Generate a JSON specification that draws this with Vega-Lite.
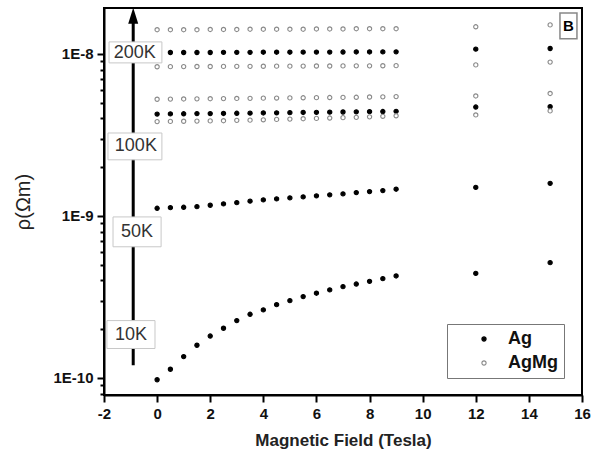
{
  "$schema": "https://vega.github.io/schema/vega-lite/v6.json",
  "width": 478,
  "height": 387,
  "autosize": "none",
  "padding": {"left": 104, "top": 8, "right": 9, "bottom": 63},
  "config": {"view": {"stroke": "black", "strokeWidth": 2}, "font": "Liberation Sans"},
  "datasets": {
    "meas": [
      {"B": 0, "rho": 1.41e-8, "sample": "AgMg"}, {"B": 0.5, "rho": 1.41e-8, "sample": "AgMg"}, {"B": 1, "rho": 1.41e-8, "sample": "AgMg"}, {"B": 1.5, "rho": 1.41e-8, "sample": "AgMg"}, {"B": 2, "rho": 1.415e-8, "sample": "AgMg"}, {"B": 2.5, "rho": 1.415e-8, "sample": "AgMg"}, {"B": 3, "rho": 1.415e-8, "sample": "AgMg"}, {"B": 3.5, "rho": 1.42e-8, "sample": "AgMg"}, {"B": 4, "rho": 1.42e-8, "sample": "AgMg"}, {"B": 4.5, "rho": 1.42e-8, "sample": "AgMg"}, {"B": 5, "rho": 1.42e-8, "sample": "AgMg"}, {"B": 5.5, "rho": 1.42e-8, "sample": "AgMg"}, {"B": 6, "rho": 1.425e-8, "sample": "AgMg"}, {"B": 6.5, "rho": 1.425e-8, "sample": "AgMg"}, {"B": 7, "rho": 1.425e-8, "sample": "AgMg"}, {"B": 7.5, "rho": 1.43e-8, "sample": "AgMg"}, {"B": 8, "rho": 1.43e-8, "sample": "AgMg"}, {"B": 8.5, "rho": 1.43e-8, "sample": "AgMg"}, {"B": 9, "rho": 1.43e-8, "sample": "AgMg"}, {"B": 12, "rho": 1.47e-8, "sample": "AgMg"}, {"B": 14.8, "rho": 1.51e-8, "sample": "AgMg"},

      {"B": 0, "rho": 1.02e-8, "sample": "Ag"}, {"B": 0.5, "rho": 1.02e-8, "sample": "Ag"}, {"B": 1, "rho": 1.02e-8, "sample": "Ag"}, {"B": 1.5, "rho": 1.02e-8, "sample": "Ag"}, {"B": 2, "rho": 1.02e-8, "sample": "Ag"}, {"B": 2.5, "rho": 1.022e-8, "sample": "Ag"}, {"B": 3, "rho": 1.022e-8, "sample": "Ag"}, {"B": 3.5, "rho": 1.022e-8, "sample": "Ag"}, {"B": 4, "rho": 1.024e-8, "sample": "Ag"}, {"B": 4.5, "rho": 1.024e-8, "sample": "Ag"}, {"B": 5, "rho": 1.024e-8, "sample": "Ag"}, {"B": 5.5, "rho": 1.025e-8, "sample": "Ag"}, {"B": 6, "rho": 1.026e-8, "sample": "Ag"}, {"B": 6.5, "rho": 1.026e-8, "sample": "Ag"}, {"B": 7, "rho": 1.027e-8, "sample": "Ag"}, {"B": 7.5, "rho": 1.028e-8, "sample": "Ag"}, {"B": 8, "rho": 1.028e-8, "sample": "Ag"}, {"B": 8.5, "rho": 1.029e-8, "sample": "Ag"}, {"B": 9, "rho": 1.03e-8, "sample": "Ag"}, {"B": 12, "rho": 1.07e-8, "sample": "Ag"}, {"B": 14.8, "rho": 1.08e-8, "sample": "Ag"},

      {"B": 0, "rho": 8.33e-9, "sample": "AgMg"}, {"B": 0.5, "rho": 8.34e-9, "sample": "AgMg"}, {"B": 1, "rho": 8.35e-9, "sample": "AgMg"}, {"B": 1.5, "rho": 8.36e-9, "sample": "AgMg"}, {"B": 2, "rho": 8.36e-9, "sample": "AgMg"}, {"B": 2.5, "rho": 8.37e-9, "sample": "AgMg"}, {"B": 3, "rho": 8.38e-9, "sample": "AgMg"}, {"B": 3.5, "rho": 8.38e-9, "sample": "AgMg"}, {"B": 4, "rho": 8.39e-9, "sample": "AgMg"}, {"B": 4.5, "rho": 8.4e-9, "sample": "AgMg"}, {"B": 5, "rho": 8.4e-9, "sample": "AgMg"}, {"B": 5.5, "rho": 8.41e-9, "sample": "AgMg"}, {"B": 6, "rho": 8.42e-9, "sample": "AgMg"}, {"B": 6.5, "rho": 8.42e-9, "sample": "AgMg"}, {"B": 7, "rho": 8.43e-9, "sample": "AgMg"}, {"B": 7.5, "rho": 8.44e-9, "sample": "AgMg"}, {"B": 8, "rho": 8.44e-9, "sample": "AgMg"}, {"B": 8.5, "rho": 8.45e-9, "sample": "AgMg"}, {"B": 9, "rho": 8.46e-9, "sample": "AgMg"}, {"B": 12, "rho": 8.55e-9, "sample": "AgMg"}, {"B": 14.8, "rho": 8.9e-9, "sample": "AgMg"},

      {"B": 0, "rho": 5.25e-9, "sample": "AgMg"}, {"B": 0.5, "rho": 5.26e-9, "sample": "AgMg"}, {"B": 1, "rho": 5.27e-9, "sample": "AgMg"}, {"B": 1.5, "rho": 5.28e-9, "sample": "AgMg"}, {"B": 2, "rho": 5.29e-9, "sample": "AgMg"}, {"B": 2.5, "rho": 5.3e-9, "sample": "AgMg"}, {"B": 3, "rho": 5.31e-9, "sample": "AgMg"}, {"B": 3.5, "rho": 5.32e-9, "sample": "AgMg"}, {"B": 4, "rho": 5.33e-9, "sample": "AgMg"}, {"B": 4.5, "rho": 5.34e-9, "sample": "AgMg"}, {"B": 5, "rho": 5.35e-9, "sample": "AgMg"}, {"B": 5.5, "rho": 5.36e-9, "sample": "AgMg"}, {"B": 6, "rho": 5.37e-9, "sample": "AgMg"}, {"B": 6.5, "rho": 5.38e-9, "sample": "AgMg"}, {"B": 7, "rho": 5.39e-9, "sample": "AgMg"}, {"B": 7.5, "rho": 5.4e-9, "sample": "AgMg"}, {"B": 8, "rho": 5.42e-9, "sample": "AgMg"}, {"B": 8.5, "rho": 5.43e-9, "sample": "AgMg"}, {"B": 9, "rho": 5.45e-9, "sample": "AgMg"}, {"B": 12, "rho": 5.5e-9, "sample": "AgMg"}, {"B": 14.8, "rho": 5.7e-9, "sample": "AgMg"},

      {"B": 0, "rho": 4.25e-9, "sample": "Ag"}, {"B": 0.5, "rho": 4.26e-9, "sample": "Ag"}, {"B": 1, "rho": 4.27e-9, "sample": "Ag"}, {"B": 1.5, "rho": 4.28e-9, "sample": "Ag"}, {"B": 2, "rho": 4.28e-9, "sample": "Ag"}, {"B": 2.5, "rho": 4.29e-9, "sample": "Ag"}, {"B": 3, "rho": 4.3e-9, "sample": "Ag"}, {"B": 3.5, "rho": 4.31e-9, "sample": "Ag"}, {"B": 4, "rho": 4.32e-9, "sample": "Ag"}, {"B": 4.5, "rho": 4.33e-9, "sample": "Ag"}, {"B": 5, "rho": 4.34e-9, "sample": "Ag"}, {"B": 5.5, "rho": 4.35e-9, "sample": "Ag"}, {"B": 6, "rho": 4.36e-9, "sample": "Ag"}, {"B": 6.5, "rho": 4.37e-9, "sample": "Ag"}, {"B": 7, "rho": 4.38e-9, "sample": "Ag"}, {"B": 7.5, "rho": 4.39e-9, "sample": "Ag"}, {"B": 8, "rho": 4.4e-9, "sample": "Ag"}, {"B": 8.5, "rho": 4.41e-9, "sample": "Ag"}, {"B": 9, "rho": 4.42e-9, "sample": "Ag"}, {"B": 12, "rho": 4.7e-9, "sample": "Ag"}, {"B": 14.8, "rho": 4.72e-9, "sample": "Ag"},

      {"B": 0, "rho": 3.82e-9, "sample": "AgMg"}, {"B": 0.5, "rho": 3.83e-9, "sample": "AgMg"}, {"B": 1, "rho": 3.84e-9, "sample": "AgMg"}, {"B": 1.5, "rho": 3.85e-9, "sample": "AgMg"}, {"B": 2, "rho": 3.86e-9, "sample": "AgMg"}, {"B": 2.5, "rho": 3.87e-9, "sample": "AgMg"}, {"B": 3, "rho": 3.89e-9, "sample": "AgMg"}, {"B": 3.5, "rho": 3.9e-9, "sample": "AgMg"}, {"B": 4, "rho": 3.92e-9, "sample": "AgMg"}, {"B": 4.5, "rho": 3.94e-9, "sample": "AgMg"}, {"B": 5, "rho": 3.96e-9, "sample": "AgMg"}, {"B": 5.5, "rho": 3.98e-9, "sample": "AgMg"}, {"B": 6, "rho": 4.0e-9, "sample": "AgMg"}, {"B": 6.5, "rho": 4.02e-9, "sample": "AgMg"}, {"B": 7, "rho": 4.04e-9, "sample": "AgMg"}, {"B": 7.5, "rho": 4.06e-9, "sample": "AgMg"}, {"B": 8, "rho": 4.09e-9, "sample": "AgMg"}, {"B": 8.5, "rho": 4.12e-9, "sample": "AgMg"}, {"B": 9, "rho": 4.15e-9, "sample": "AgMg"}, {"B": 12, "rho": 4.2e-9, "sample": "AgMg"}, {"B": 14.8, "rho": 4.45e-9, "sample": "AgMg"},

      {"B": 0, "rho": 1.115e-9, "sample": "Ag"}, {"B": 0.5, "rho": 1.125e-9, "sample": "Ag"}, {"B": 1, "rho": 1.131e-9, "sample": "Ag"}, {"B": 1.5, "rho": 1.141e-9, "sample": "Ag"}, {"B": 2, "rho": 1.164e-9, "sample": "Ag"}, {"B": 2.5, "rho": 1.186e-9, "sample": "Ag"}, {"B": 3, "rho": 1.208e-9, "sample": "Ag"}, {"B": 3.5, "rho": 1.233e-9, "sample": "Ag"}, {"B": 4, "rho": 1.256e-9, "sample": "Ag"}, {"B": 4.5, "rho": 1.274e-9, "sample": "Ag"}, {"B": 5, "rho": 1.292e-9, "sample": "Ag"}, {"B": 5.5, "rho": 1.31e-9, "sample": "Ag"}, {"B": 6, "rho": 1.33e-9, "sample": "Ag"}, {"B": 6.5, "rho": 1.349e-9, "sample": "Ag"}, {"B": 7, "rho": 1.368e-9, "sample": "Ag"}, {"B": 7.5, "rho": 1.393e-9, "sample": "Ag"}, {"B": 8, "rho": 1.413e-9, "sample": "Ag"}, {"B": 8.5, "rho": 1.433e-9, "sample": "Ag"}, {"B": 9, "rho": 1.462e-9, "sample": "Ag"}, {"B": 12, "rho": 1.5e-9, "sample": "Ag"}, {"B": 14.8, "rho": 1.59e-9, "sample": "Ag"},

      {"B": 0, "rho": 9.75e-11, "sample": "Ag"}, {"B": 0.5, "rho": 1.132e-10, "sample": "Ag"}, {"B": 1, "rho": 1.355e-10, "sample": "Ag"}, {"B": 1.5, "rho": 1.592e-10, "sample": "Ag"}, {"B": 2, "rho": 1.815e-10, "sample": "Ag"}, {"B": 2.5, "rho": 2.027e-10, "sample": "Ag"}, {"B": 3, "rho": 2.259e-10, "sample": "Ag"}, {"B": 3.5, "rho": 2.472e-10, "sample": "Ag"}, {"B": 4, "rho": 2.63e-10, "sample": "Ag"}, {"B": 4.5, "rho": 2.834e-10, "sample": "Ag"}, {"B": 5, "rho": 2.999e-10, "sample": "Ag"}, {"B": 5.5, "rho": 3.177e-10, "sample": "Ag"}, {"B": 6, "rho": 3.334e-10, "sample": "Ag"}, {"B": 6.5, "rho": 3.493e-10, "sample": "Ag"}, {"B": 7, "rho": 3.66e-10, "sample": "Ag"}, {"B": 7.5, "rho": 3.8e-10, "sample": "Ag"}, {"B": 8, "rho": 3.95e-10, "sample": "Ag"}, {"B": 8.5, "rho": 4.1e-10, "sample": "Ag"}, {"B": 9, "rho": 4.26e-10, "sample": "Ag"}, {"B": 12, "rho": 4.42e-10, "sample": "Ag"}, {"B": 14.8, "rho": 5.15e-10, "sample": "Ag"}
    ],
    "temps": [
      {"label": "200K", "tx": -0.84, "ty": 1.02e-8, "bx1": -1.81, "bx2": 0.18, "by1": 8.8e-9, "by2": 1.186e-8},
      {"label": "100K", "tx": -0.8, "ty": 2.69e-9, "bx1": -1.85, "bx2": 0.18, "by1": 2.22e-9, "by2": 3.25e-9},
      {"label": "50K", "tx": -0.76, "ty": 7.97e-10, "bx1": -1.66, "bx2": 0.15, "by1": 6.45e-10, "by2": 9.86e-10},
      {"label": "10K", "tx": -0.98, "ty": 1.84e-10, "bx1": -1.89, "bx2": -0.08, "by1": 1.52e-10, "by2": 2.26e-10}
    ]
  },
  "layer": [
    {
      "data": {"name": "meas"},
      "mark": {"type": "point", "shape": "circle", "opacity": 1, "strokeWidth": 1.1, "size": 18},
      "encoding": {
        "x": {
          "field": "B", "type": "quantitative",
          "scale": {"domain": [-2, 16], "nice": false, "zero": false},
          "axis": {
            "values": [-2, -1, 0, 1, 2, 3, 4, 5, 6, 7, 8, 9, 10, 11, 12, 13, 14, 15, 16],
            "labelExpr": "datum.value % 2 == 0 ? '' + datum.value : ''",
            "tickSize": {"condition": {"test": "datum.value % 2 == 0", "value": 7}, "value": 4},
            "grid": false,
            "title": "Magnetic Field (Tesla)",
            "domainColor": "black", "domainWidth": 2, "tickColor": "black", "tickWidth": 2,
            "labelFont": "Liberation Sans", "labelFontWeight": "bold", "labelFontSize": 15, "labelColor": "#111", "labelPadding": 4, "labelFlush": false,
            "titleFont": "Liberation Sans", "titleFontWeight": "bold", "titleFontSize": 17, "titleColor": "#222", "titlePadding": 11
          }
        },
        "y": {
          "field": "rho", "type": "quantitative",
          "scale": {"type": "log", "domain": [7.85e-11, 1.92e-8], "nice": false},
          "axis": {
            "values": [8e-11, 9e-11, 1e-10, 2e-10, 3e-10, 4e-10, 5e-10, 6e-10, 7e-10, 8e-10, 9e-10, 1e-9, 2e-9, 3e-9, 4e-9, 5e-9, 6e-9, 7e-9, 8e-9, 9e-9, 1e-8],
            "labelExpr": "abs(log(datum.value)/LN10 - round(log(datum.value)/LN10)) < 0.01 ? '1E' + round(log(datum.value)/LN10) : ''",
            "tickSize": {"condition": {"test": "abs(log(datum.value)/LN10 - round(log(datum.value)/LN10)) < 0.01", "value": 7}, "value": 4},
            "grid": false,
            "title": "ρ(Ωm)",
            "domainColor": "black", "domainWidth": 2, "tickColor": "black", "tickWidth": 2,
            "labelFont": "Liberation Sans", "labelFontWeight": "bold", "labelFontSize": 15, "labelColor": "#111", "labelPadding": 4, "labelFlush": false,
            "titleFont": "Liberation Sans", "titleFontWeight": "normal", "titleFontSize": 20, "titleColor": "#222", "titlePadding": 19
          }
        },
        "fill": {
          "field": "sample", "type": "nominal",
          "scale": {"domain": ["Ag", "AgMg"], "range": ["black", "white"]},
          "legend": {"title": null, "orient": "none", "legendX": 343, "legendY": 316, "strokeColor": "#777", "padding": 6, "symbolSize": 18, "symbolStrokeWidth": 1.1, "symbolType": "circle", "labelFont": "Liberation Sans", "labelFontWeight": "bold", "labelFontSize": 18, "labelColor": "#111", "symbolOffset": 22, "labelOffset": 15, "rowPadding": 6}
        },
        "stroke": {
          "field": "sample", "type": "nominal",
          "scale": {"domain": ["Ag", "AgMg"], "range": ["black", "#8a8a8a"]},
          "legend": {"title": null, "orient": "none", "legendX": 343, "legendY": 316, "strokeColor": "#777", "padding": 6, "symbolSize": 18, "symbolStrokeWidth": 1.1, "symbolType": "circle", "labelFont": "Liberation Sans", "labelFontWeight": "bold", "labelFontSize": 18, "labelColor": "#111", "symbolOffset": 22, "labelOffset": 15, "rowPadding": 6}
        }
      }
    },
    {
      "data": {"values": [{"x": -0.9, "y1": 1.2e-10, "y2": 1.65e-8}]},
      "mark": {"type": "rule", "color": "black", "strokeWidth": 3},
      "encoding": {
        "x": {"field": "x", "type": "quantitative"},
        "y": {"field": "y1", "type": "quantitative"},
        "y2": {"field": "y2"}
      }
    },
    {
      "data": {"values": [{"x": -0.9, "y": 1.72e-8}]},
      "mark": {"type": "point", "shape": "M0,-1L0.625,1L-0.625,1Z", "filled": true, "color": "black", "size": 256, "opacity": 1},
      "encoding": {
        "x": {"field": "x", "type": "quantitative"},
        "y": {"field": "y", "type": "quantitative"}
      }
    },
    {
      "data": {"name": "temps"},
      "mark": {"type": "rect", "fill": "white", "stroke": "#c8c8c8", "strokeWidth": 1},
      "encoding": {
        "x": {"field": "bx1", "type": "quantitative"},
        "x2": {"field": "bx2"},
        "y": {"field": "by1", "type": "quantitative"},
        "y2": {"field": "by2"}
      }
    },
    {
      "data": {"name": "temps"},
      "mark": {"type": "text", "font": "Liberation Sans", "fontSize": 18, "color": "#333", "align": "center", "baseline": "middle"},
      "encoding": {
        "x": {"field": "tx", "type": "quantitative"},
        "y": {"field": "ty", "type": "quantitative"},
        "text": {"field": "label"}
      }
    },
    {
      "data": {"values": [{"x1": 15.17, "x2": 15.81, "y1": 1.24e-8, "y2": 1.79e-8}]},
      "mark": {"type": "rect", "fill": "white", "stroke": "#888", "strokeWidth": 1.5},
      "encoding": {
        "x": {"field": "x1", "type": "quantitative"},
        "x2": {"field": "x2"},
        "y": {"field": "y1", "type": "quantitative"},
        "y2": {"field": "y2"}
      }
    },
    {
      "data": {"values": [{"x": 15.49, "y": 1.49e-8, "t": "B"}]},
      "mark": {"type": "text", "font": "Liberation Sans", "fontWeight": "bold", "fontSize": 15, "color": "black", "align": "center", "baseline": "middle"},
      "encoding": {
        "x": {"field": "x", "type": "quantitative"},
        "y": {"field": "y", "type": "quantitative"},
        "text": {"field": "t"}
      }
    }
  ]
}
